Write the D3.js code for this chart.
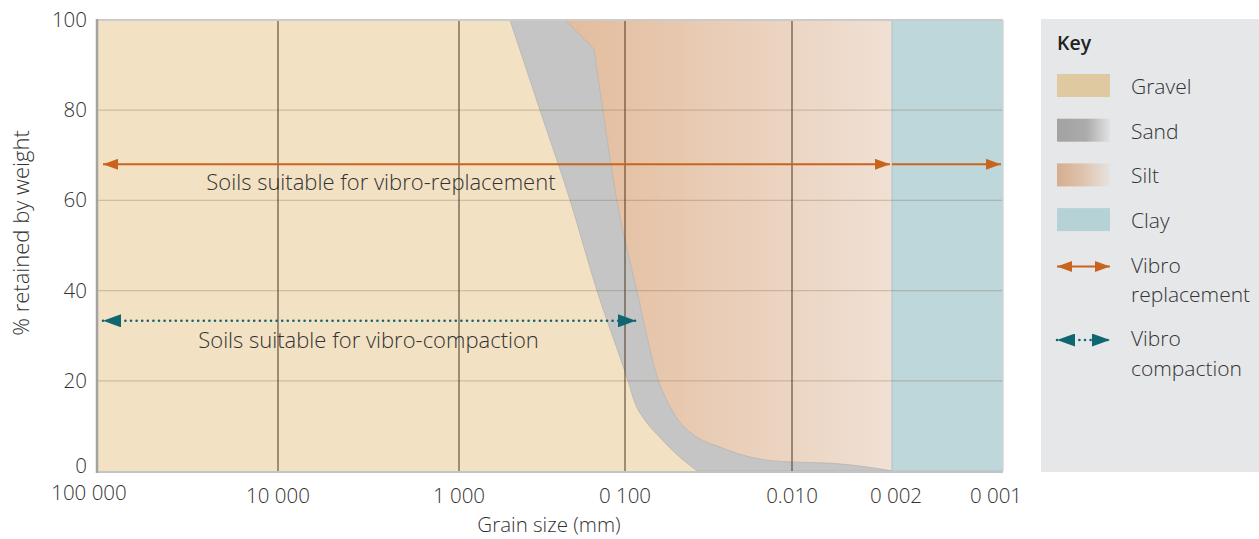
<!DOCTYPE html>
<html>
<head>
<meta charset="utf-8">
<script src="https://cdn.jsdelivr.net/npm/d3@7"></script>
<style>
  body { margin: 0; background: #fff; }
  svg text { font-family: "Open Sans", sans-serif; font-weight: 300; fill: #333; }
</style>
</head>
<body>
<div id="chart"></div>
<script>
// grain size ticks (mm) and how the source writes them
var sizeTicks = [100, 10, 1, 0.1, 0.01, 0.002, 0.001];
var sizeLabels = ["100 000", "10 000", "1 000", "0 100", "0.010", "0 002", "0 001"];
var pctTicks = [0, 20, 40, 60, 80, 100];

// sand band, [grain size mm, % retained]
var sandCoarse = [[0.493, 100], [0.325, 80], [0.214, 60], [0.1475, 40], [0.096, 20],
                  [0.087, 15], [0.076, 11.3], [0.062, 7.5], [0.05, 4], [0.037, 0]];
var sandFine = [[0.23, 100], [0.154, 93.6], [0.136, 80], [0.112, 60], [0.085, 40],
                [0.063, 20], [0.055, 15], [0.048, 11.3], [0.037, 7.5], [0.027, 5.3], [0.0196, 3.5],
                [0.0141, 2.4], [0.01, 2.0], [0.0052, 1.7], [0.003, 0.9], [0.002, 0]];

var clayLimit = 0.002;
var replacementRange = [100, 0.002, 0.001];
var replacementPct = 68;
var compactionRange = [100, 0.086];
var compactionPct = 33.3;

var legendItems = ["Gravel", "Sand", "Silt", "Clay"];

var W = 1259, H = 539;
var svg = d3.select("#chart").append("svg").attr("width", W).attr("height", H);

// the source axis is not evenly logarithmic, so piecewise log
var x = d3.scaleLog().domain(sizeTicks).range([97, 278, 459, 625, 792, 892, 1003]);
var y = d3.scaleLinear().domain([0, 100]).range([471, 20]);

var defs = svg.append("defs");
defs.append("clipPath").attr("id", "plotclip").append("rect")
    .attr("x", x(100)).attr("y", y(100)).attr("width", x(0.001) - x(100)).attr("height", y(0) - y(100));

function grad(id, stops) {
  var g = defs.append("linearGradient").attr("id", id).attr("x1", 0).attr("x2", 1).attr("y1", 0).attr("y2", 0);
  stops.forEach(function(s) { g.append("stop").attr("offset", s[0]).attr("stop-color", s[1]); });
}
grad("siltGrad", [[0, "#e3bc9c"], [1, "#f0e0d4"]]);
grad("sandKey", [[0, "#a2a2a2"], [0.55, "#ababab"], [1, "#e2e2e2"]]);
grad("siltKey", [[0, "#d6ad8f"], [0.5, "#dfc3ad"], [1, "#e7e3e0"]]);

function marker(id, color, w, h) {
  defs.append("marker").attr("id", id + "End")
      .attr("markerUnits", "userSpaceOnUse").attr("markerWidth", w).attr("markerHeight", h)
      .attr("refX", w).attr("refY", h / 2).attr("orient", "auto")
    .append("path").attr("d", "M0,0L" + w + "," + (h / 2) + "L0," + h + "Z").attr("fill", color);
  defs.append("marker").attr("id", id + "Start")
      .attr("markerUnits", "userSpaceOnUse").attr("markerWidth", w).attr("markerHeight", h)
      .attr("refX", 0).attr("refY", h / 2).attr("orient", "auto")
    .append("path").attr("d", "M" + w + ",0L0," + (h / 2) + "L" + w + "," + h + "Z").attr("fill", color);
}
var orange = "#c8641e", teal = "#0d6670";
marker("rep", orange, 15, 11);
marker("com", teal, 18, 13);

var plot = svg.append("g").attr("clip-path", "url(#plotclip)");

// gravel background
plot.append("rect").attr("x", x(100)).attr("y", y(100))
    .attr("width", x(clayLimit) - x(100)).attr("height", y(0) - y(100)).attr("fill", "#f2e1c3");

var smooth = d3.line().x(function(d) { return x(d[0]); }).y(function(d) { return y(d[1]); })
    .curve(d3.curveMonotoneX);
var straight = d3.line().x(function(d) { return x(d[0]); }).y(function(d) { return y(d[1]); });

// fine edge: straight top with a sharp kink, smooth below
var fineTop = sandFine.slice(0, 3), fineLow = sandFine.slice(2);
var fineDown = straight(fineTop) + smooth(fineLow).replace(/^M/, "L");
var fineUp = smooth(fineLow.slice().reverse()).replace(/^M/, "L") +
             straight(fineTop.slice().reverse()).replace(/^M/, "L");

// silt: right of the fine edge of the sand up to the clay limit
plot.append("path")
    .attr("d", fineDown + "L" + x(clayLimit) + "," + y(100) + "Z")
    .attr("fill", "url(#siltGrad)");

// clay
plot.append("rect").attr("x", x(clayLimit)).attr("y", y(100))
    .attr("width", x(0.001) - x(clayLimit)).attr("height", y(0) - y(100))
    .attr("fill", "#bed7da").attr("stroke", "#a9c3c7").attr("stroke-width", 1);

// sand band
plot.append("path")
    .attr("d", smooth(sandCoarse) + fineUp + "Z")
    .attr("fill", "#c5c5c5").attr("stroke", "#b4b4b4").attr("stroke-width", 0.8);

// grid
plot.selectAll(".hgrid").data(pctTicks.slice(1, -1)).enter().append("line")
    .attr("x1", x(100)).attr("x2", x(0.001))
    .attr("y1", function(d) { return y(d); }).attr("y2", function(d) { return y(d); })
    .attr("stroke", "rgba(120,100,70,0.28)").attr("stroke-width", 1.2);
plot.selectAll(".vgrid").data(sizeTicks.slice(1, 5)).enter().append("line")
    .attr("x1", function(d) { return x(d); }).attr("x2", function(d) { return x(d); })
    .attr("y1", y(100)).attr("y2", y(0))
    .attr("stroke", "rgba(70,50,30,0.75)").attr("stroke-width", 1.3);

// frame
svg.append("line").attr("x1", x(100)).attr("x2", x(0.001)).attr("y1", y(100)).attr("y2", y(100))
    .attr("stroke", "#cbcbcb").attr("stroke-width", 2);
svg.append("line").attr("x1", x(0.001)).attr("x2", x(0.001)).attr("y1", y(100)).attr("y2", y(0))
    .attr("stroke", "#d6d6d6").attr("stroke-width", 1.5);
svg.append("line").attr("x1", x(100)).attr("x2", x(0.001)).attr("y1", y(0) + 1).attr("y2", y(0) + 1)
    .attr("stroke", "#c4c4c4").attr("stroke-width", 2);
svg.append("line").attr("x1", x(100)).attr("x2", x(100)).attr("y1", y(100) - 1).attr("y2", y(0) + 2)
    .attr("stroke", "#a3a3a3").attr("stroke-width", 2.5);

// axes labels
svg.selectAll(".ylab").data(pctTicks).enter().append("text")
    .attr("x", 87).attr("y", function(d) { return y(d) + 7; })
    .attr("text-anchor", "end").attr("font-size", 20.5)
    .attr("dy", function(d) { return d === 0 ? -5 : 0; })
    .text(function(d) { return d; });

svg.selectAll(".xlab").data(sizeTicks).enter().append("text")
    .attr("x", function(d, i) { return x(d) + (i === 0 ? -8 : i === 5 ? 4 : i === 6 ? -7 : 0); })
    .attr("y", function(d, i) { return i === 0 ? 500 : 503; })
    .attr("text-anchor", "middle").attr("font-size", 20.5)
    .text(function(d, i) { return sizeLabels[i]; });

svg.append("text").attr("x", 549).attr("y", 532).attr("text-anchor", "middle")
    .attr("font-size", 20.5).text("Grain size (mm)");
svg.append("text").attr("transform", "translate(29,233) rotate(-90)").attr("text-anchor", "middle")
    .attr("font-size", 22).text("% retained by weight");

// suitability arrows
var inset = 6;
svg.append("line")
    .attr("x1", x(replacementRange[0]) + inset).attr("x2", x(replacementRange[1]) - 2)
    .attr("y1", y(replacementPct)).attr("y2", y(replacementPct))
    .attr("stroke", orange).attr("stroke-width", 2)
    .attr("marker-start", "url(#repStart)").attr("marker-end", "url(#repEnd)");
svg.append("line")
    .attr("x1", x(replacementRange[1])).attr("x2", x(replacementRange[2]) - 2)
    .attr("y1", y(replacementPct)).attr("y2", y(replacementPct))
    .attr("stroke", orange).attr("stroke-width", 2)
    .attr("marker-end", "url(#repEnd)");
svg.append("line")
    .attr("x1", x(compactionRange[0]) + inset).attr("x2", x(compactionRange[1]))
    .attr("y1", y(compactionPct)).attr("y2", y(compactionPct))
    .attr("stroke", teal).attr("stroke-width", 2.6).attr("stroke-linecap", "round")
    .attr("stroke-dasharray", "0,5.6")
    .attr("marker-start", "url(#comStart)").attr("marker-end", "url(#comEnd)");

svg.append("text").attr("x", x(2.7)).attr("y", y(replacementPct) + 26)
    .attr("text-anchor", "middle").attr("font-size", 22).text("Soils suitable for vibro-replacement");
svg.append("text").attr("x", x(3.16)).attr("y", y(compactionPct) + 27)
    .attr("text-anchor", "middle").attr("font-size", 22).text("Soils suitable for vibro-compaction");

// key
var key = svg.append("g");
key.append("rect").attr("x", 1041).attr("y", 19).attr("width", 218).attr("height", 453).attr("fill", "#e6e7e9");
key.append("text").attr("x", 1057).attr("y", 50).attr("font-size", 19.5).style("font-weight", 600)
    .style("fill", "#222").text("Key");
var swFill = ["#dfc9a1", "url(#sandKey)", "url(#siltKey)", "#b5d2d7"];
legendItems.forEach(function(name, i) {
  var top = 74 + i * 44.7;
  key.append("rect").attr("x", 1057).attr("y", top).attr("width", 53).attr("height", 23).attr("fill", swFill[i]);
  key.append("text").attr("x", 1131).attr("y", top + 20).attr("font-size", 21).text(name);
});
key.append("line").attr("x1", 1057).attr("x2", 1110).attr("y1", 266.5).attr("y2", 266.5)
    .attr("stroke", orange).attr("stroke-width", 2)
    .attr("marker-start", "url(#repStart)").attr("marker-end", "url(#repEnd)");
key.append("line").attr("x1", 1057).attr("x2", 1110).attr("y1", 340).attr("y2", 340)
    .attr("stroke", teal).attr("stroke-width", 2.6).attr("stroke-linecap", "round")
    .attr("stroke-dasharray", "0,5.6")
    .attr("marker-start", "url(#comStart)").attr("marker-end", "url(#comEnd)");
[["Vibro", 273], ["replacement", 302], ["Vibro", 346], ["compaction", 376]].forEach(function(t) {
  key.append("text").attr("x", 1131).attr("y", t[1]).attr("font-size", 21).text(t[0]);
});
</script>
</body>
</html>
